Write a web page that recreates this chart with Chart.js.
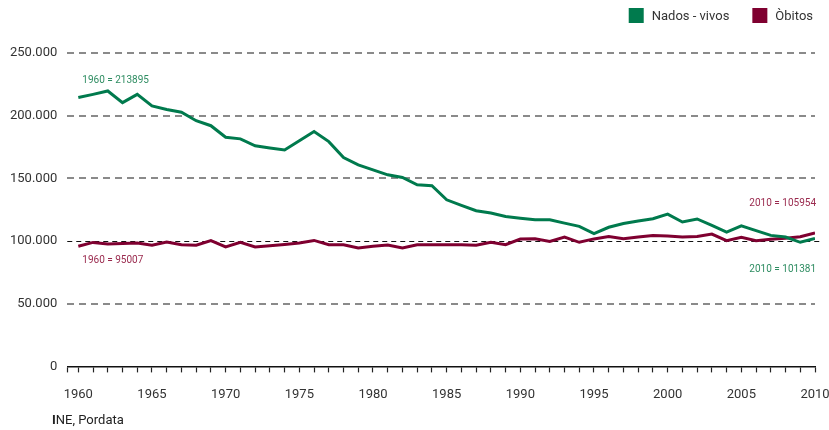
<!DOCTYPE html>
<html>
<head>
<meta charset="utf-8">
<script src="https://cdn.jsdelivr.net/npm/chart.js@4/dist/chart.umd.min.js"></script>
<style>
  body { margin: 0; background: #fff; }
  #wrap { width: 829px; height: 430px; position: relative; }
</style>
</head>
<body>
<div id="wrap"><canvas id="chart"></canvas></div>
<script>
// Years 1960..2010
const years = [];
for (let y = 1960; y <= 2010; y++) years.push(y);

// Nados-vivos (births)
const births = [
  214500, 217000, 219700, 210400, 217000, 207800, 205000, 202700, 196000, 192000,
  182800, 181500, 176000, 174300, 172700, 180000, 187300, 179300, 166600, 160800,
  156800, 152800, 150700, 144900, 144100, 132900, 128500, 124200, 122300, 119600,
  118200, 117000, 117000, 114300, 111700, 105900, 111000, 114000, 116000, 117800,
  121500, 115200, 117600, 112400, 107200, 112200, 108300, 104500, 103200, 99000,
  102000
];

// Òbitos (deaths)
const deaths = [
  95900, 98900, 97700, 98100, 98500, 96600, 99300, 97100, 96600, 100300,
  95300, 98900, 95300, 96300, 97300, 98500, 100500, 97100, 97100, 94500,
  95800, 96800, 94500, 97100, 97100, 97100, 97000, 96600, 99000, 97100,
  101600, 101900, 99700, 103200, 99000, 101700, 103700, 101900, 103200, 104500,
  104000, 103300, 103700, 105600, 100300, 102900, 100300, 101500, 102300, 103500,
  106400
];

const seriesNames = ['Nados - vivos', 'Òbitos'];
const yTicks = [0, 50000, 100000, 150000, 200000, 250000];
const xLabelStep = 5;

const GREEN = '#007a4d';
const MAROON = '#7f0030';

function fmt(v) {
  return String(v).replace(/\B(?=(\d{3})+(?!\d))/g, '.');
}

const overlay = {
  id: 'overlay',
  beforeDatasetsDraw(chart) {
    // black dashed reference line at 100.000
    const { ctx, chartArea, scales } = chart;
    const y = Math.round(scales.y.getPixelForValue(100000)) + 0.5;
    ctx.save();
    ctx.strokeStyle = '#111';
    ctx.lineWidth = 1;
    ctx.setLineDash([5, 4]);
    ctx.beginPath();
    ctx.moveTo(chartArea.left, y);
    ctx.lineTo(chartArea.right + 5, y);
    ctx.stroke();
    ctx.restore();
  },
  afterDraw(chart) {
    const { ctx, scales } = chart;
    const x = scales.x, y = scales.y;
    ctx.save();

    // legend, top right
    ctx.font = '13px Roboto';
    ctx.textBaseline = 'middle';
    ctx.textAlign = 'left';
    const colors = chart.data.datasets.map(d => d.borderColor);
    let right = 813;
    for (let i = seriesNames.length - 1; i >= 0; i--) {
      const tw = ctx.measureText(seriesNames[i]).width;
      const tx = right - tw;
      ctx.fillStyle = '#333';
      ctx.fillText(seriesNames[i], tx, 17);
      ctx.fillStyle = colors[i];
      ctx.fillRect(tx - 8 - 15, 8, 15, 15);
      right = tx - 8 - 15 - 23;
    }

    // value notes
    ctx.font = '10px Roboto';
    ctx.fillStyle = '#2f8d62';
    ctx.fillText('1960 = 213895', x.getPixelForValue(1960) + 4, y.getPixelForValue(births[0]) - 17);
    ctx.fillStyle = '#9a2a4e';
    ctx.fillText('1960 = 95007', x.getPixelForValue(1960) + 4, y.getPixelForValue(deaths[0]) + 14);
    ctx.textAlign = 'right';
    const xe = x.getPixelForValue(2010) + 1;
    ctx.fillStyle = '#9a2a4e';
    ctx.fillText('2010 = 105954', xe, y.getPixelForValue(deaths[50]) - 30);
    ctx.fillStyle = '#2f8d62';
    ctx.fillText('2010 = 101381', xe, y.getPixelForValue(births[50]) + 31);

    // source
    ctx.textAlign = 'left';
    ctx.fillStyle = '#222';
    ctx.font = 'bold 13px Roboto';
    ctx.fillText('I', 52, 421);
    const w = ctx.measureText('I').width;
    ctx.font = '13px Roboto';
    ctx.fillText('NE, Pordata', 52 + w, 421);
    ctx.restore();
  }
};

new Chart(document.getElementById('chart'), {
  type: 'line',
  data: {
    datasets: [
      {
        label: seriesNames[0],
        data: years.map((yr, i) => ({ x: yr, y: births[i] })),
        borderColor: GREEN,
        backgroundColor: GREEN,
        borderWidth: 3,
        pointRadius: 0,
        tension: 0
      },
      {
        label: seriesNames[1],
        data: years.map((yr, i) => ({ x: yr, y: deaths[i] })),
        borderColor: MAROON,
        backgroundColor: MAROON,
        borderWidth: 3,
        pointRadius: 0,
        tension: 0
      }
    ]
  },
  options: {
    responsive: true,
    maintainAspectRatio: false,
    animation: false,
    layout: { padding: { left: 0, right: 14, top: 53, bottom: 12 } },
    plugins: {
      legend: { display: false },
      tooltip: { enabled: false }
    },
    scales: {
      x: {
        type: 'linear',
        min: 1959.25,
        max: 2010,
        afterBuildTicks(axis) {
          axis.ticks = [{ value: 1959.25 }].concat(years.map(v => ({ value: v })));
        },
        afterFit(axis) {
          axis.paddingRight = 0;
        },
        ticks: {
          autoSkip: false,
          maxRotation: 0,
          padding: 15,
          color: '#333',
          font: { family: 'Roboto', size: 13 },
          callback: v => (Number.isInteger(v) && v % xLabelStep === 0) ? String(v) : ''
        },
        grid: {
          drawOnChartArea: false,
          drawTicks: true,
          tickLength: 6,
          tickColor: '#222',
          tickWidth: 1.2
        },
        border: { display: true, color: '#111', width: 1.5 }
      },
      y: {
        min: 0,
        max: 250000,
        afterBuildTicks(axis) {
          axis.ticks = yTicks.map(v => ({ value: v }));
        },
        ticks: {
          padding: 10,
          color: '#333',
          font: { family: 'Roboto', size: 13 },
          callback: v => fmt(v)
        },
        grid: {
          drawTicks: false,
          lineWidth: 2,
          color: c => (c.tick && (c.tick.value === 100000 || c.tick.value === 0)) ? 'rgba(0,0,0,0)' : '#8a8a8a'
        },
        border: { display: false, dash: [7, 5] }
      }
    }
  },
  plugins: [overlay]
});
</script>
</body>
</html>
